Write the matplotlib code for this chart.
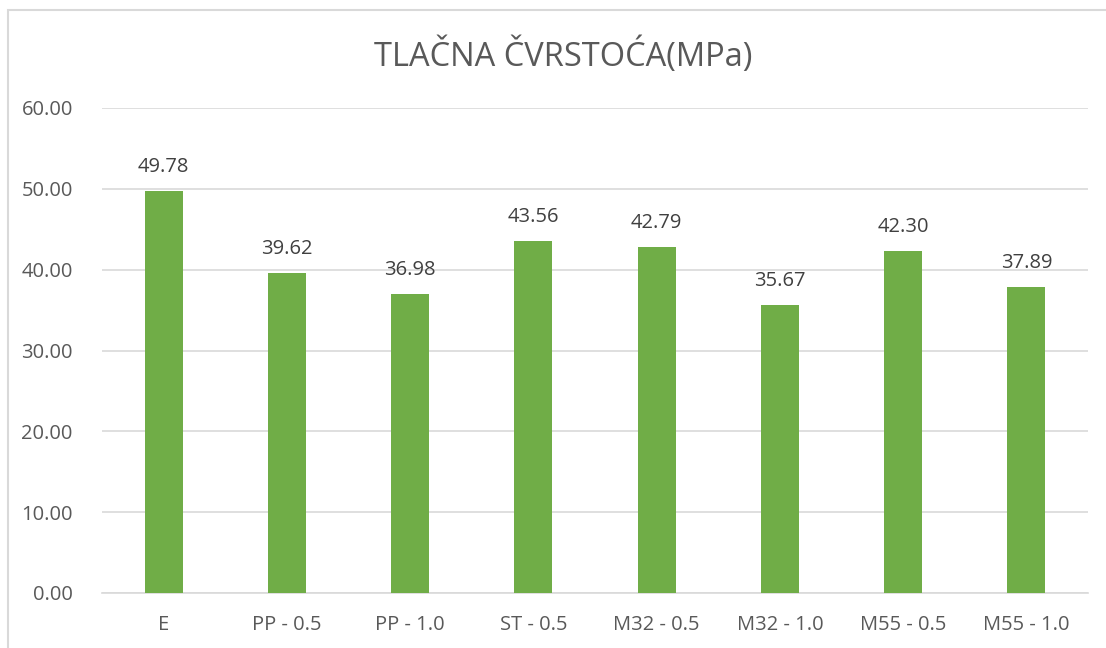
import matplotlib.pyplot as plt
from matplotlib.patches import Rectangle

categories = ['E', 'PP - 0.5', 'PP - 1.0', 'ST - 0.5', 'M32 - 0.5',
              'M32 - 1.0', 'M55 - 0.5', 'M55 - 1.0']
strength = [49.78, 39.62, 36.98, 43.56, 42.79, 35.67, 42.30, 37.89]
y_ticks = [0, 10, 20, 30, 40, 50, 60]

GREEN = '#70AD47'
TEXT = '#595959'
LABEL = '#404040'
GRID = '#D9D9D9'

plt.rcParams['font.family'] = ['Open Sans', 'DejaVu Sans']

fig = plt.figure(figsize=(11.06, 6.48), dpi=100)
ax = fig.add_axes([102 / 1106, 1 - 593 / 648, 986 / 1106, 485 / 648])

x = range(len(categories))
bars = ax.bar(x, strength, width=0.31, color=GREEN, zorder=3)

ax.set_xlim(-0.5, len(categories) - 0.5)
ax.set_ylim(0, 60)
ax.set_yticks(y_ticks)
ax.set_yticklabels(['{:.2f}'.format(v) for v in y_ticks])
ax.set_xticks(list(x))
ax.set_xticklabels(categories)
ax.tick_params(axis='both', length=0, labelsize=14.5, labelcolor=TEXT)
ax.tick_params(axis='y', pad=21)
ax.tick_params(axis='x', pad=16)

ax.grid(axis='y', color=GRID, linewidth=1.2, zorder=0)
for side in ['top', 'right', 'left']:
    ax.spines[side].set_visible(False)
ax.spines['bottom'].set_color(GRID)
ax.spines['bottom'].set_linewidth(1.2)

for bar, val in zip(bars, strength):
    ax.annotate('{:.2f}'.format(val),
                (bar.get_x() + bar.get_width() / 2, val),
                xytext=(0, 10), textcoords='offset points',
                ha='center', va='bottom', fontsize=14.5, color=LABEL)

fig.text(563 / 1106, 1 - 56 / 648, 'TLAČNA ČVRSTOĆA(MPa)', ha='center',
         va='center', fontsize=23.5, color=TEXT)

# chart frame, cut off at right and bottom like the screenshot
fig.patches.append(Rectangle((8 / 1106, -0.05), 1.2, 1 - 10 / 648 + 0.05,
                             transform=fig.transFigure, fill=False,
                             edgecolor=GRID, linewidth=1.5))

fig.savefig('out.png', dpi=100)
